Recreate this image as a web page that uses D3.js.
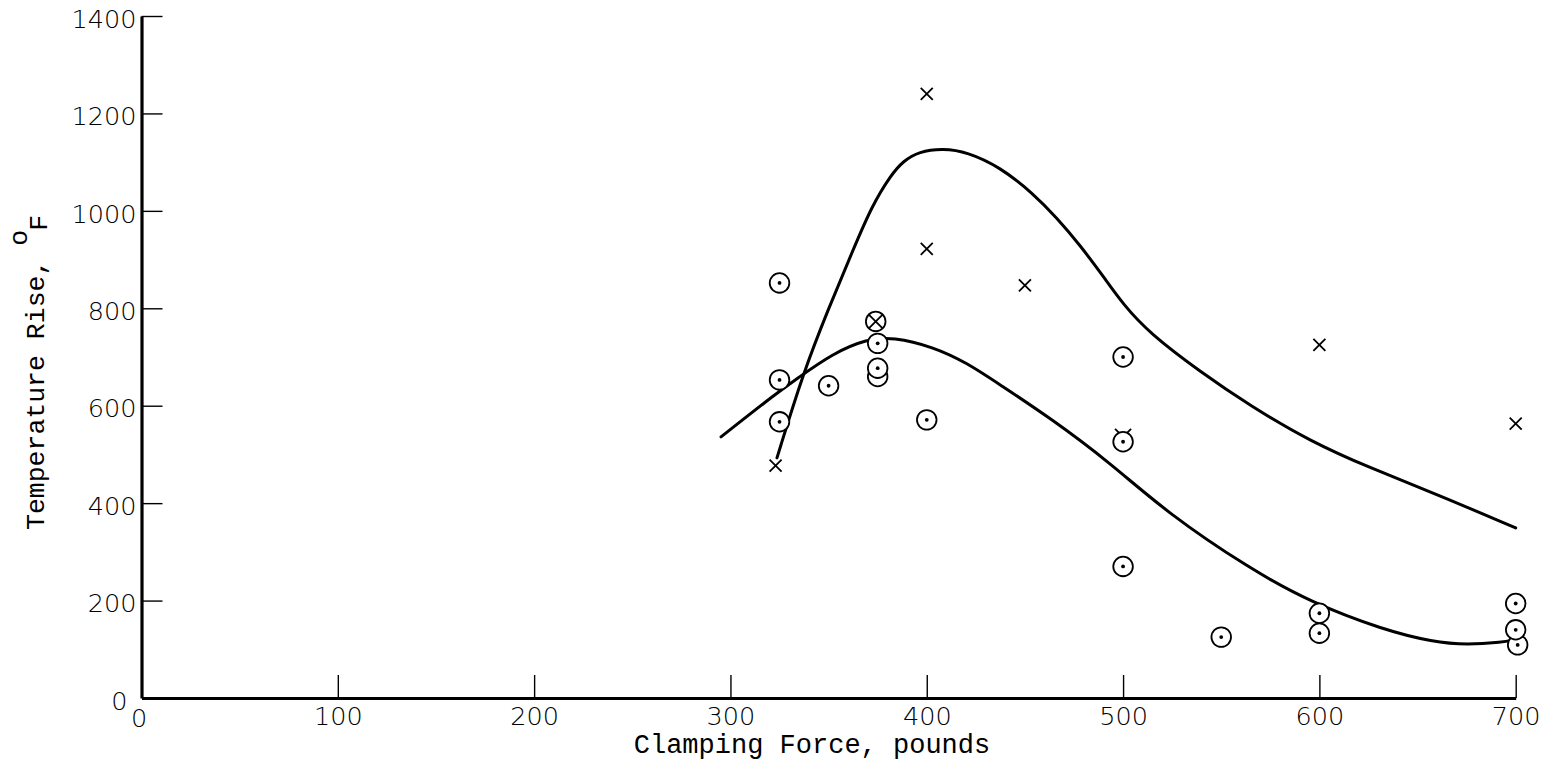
<!DOCTYPE html>
<html>
<head>
<meta charset="utf-8">
<script src="https://cdn.jsdelivr.net/npm/d3@7"></script>
<style>
  html, body { margin: 0; padding: 0; background: #fff; }
  svg { display: block; }
</style>
</head>
<body>
<svg id="chart" width="1551" height="772"></svg>
<script>
// ---- data ----
const xTicks = [0, 100, 200, 300, 400, 500, 600, 700];
const yTicks = [0, 200, 400, 600, 800, 1000, 1200, 1400];

// circle-dot observations (drawing order matters for overlaps)
const dotX = [325, 325, 325, 350, 375, 375, 375, 400, 500, 500, 500, 550, 600, 600, 701, 700, 700];
const dotY = [852, 653, 567, 641, 660, 677, 728, 571, 700, 526, 270, 125, 174, 133, 109, 140, 194];

// cross observations
const crossX = [323, 400, 400, 450, 600, 700, 500];
const crossY = [477, 1240, 922, 847, 725, 563, 536];

// crossed-circle observation
const crossedCircleX = [374];
const crossedCircleY = [773];

// faired curves
const upperX = [323.7, 337, 350, 362.5, 372, 382, 388, 396, 408.3, 420.5, 437.3, 454.1, 466.4, 478, 490, 500, 513.7, 539.2, 564.7, 595.3, 625.9, 660, 700];
const upperY = [493, 667, 800, 920, 1010, 1075, 1102, 1122, 1128, 1121, 1090, 1036, 985, 930, 865, 808, 748, 670, 600, 527, 472, 418, 349];
const lowerX = [295.2, 324.2, 333, 352.3, 369.6, 382.8, 403.2, 420.5, 437.3, 462.8, 493.4, 522.4, 564.7, 595.3, 632.5, 658, 675.3, 693.6, 698.7];
const lowerY = [536, 628, 653, 708, 737, 741, 721, 688, 643, 575, 483, 380, 265, 197, 140, 115, 109, 115, 119];

// ---- layout ----
const svg = d3.select("#chart");
const x = d3.scaleLinear().domain([0, 700]).range([141.5, 1515.7]);
const y = d3.scaleLinear().domain([0, 1400]).range([698, 16]);

const tickFont = "'DejaVu Sans', sans-serif";
const titleFont = "'Liberation Mono', 'DejaVu Sans Mono', monospace";

// curves
const line = d3.line().curve(d3.curveBasis);
function curve(xs, ys) {
  return line(xs.map((v, i) => [x(v), y(ys[i])]));
}
svg.append("path").attr("d", curve(upperX, upperY))
  .attr("fill", "none").attr("stroke", "#000").attr("stroke-width", 3).attr("stroke-linecap", "round");
svg.append("path").attr("d", curve(lowerX, lowerY))
  .attr("fill", "none").attr("stroke", "#000").attr("stroke-width", 3).attr("stroke-linecap", "round");

// crosses
const cs = 6;
crossX.forEach((v, i) => {
  const cx = x(v), cy = y(crossY[i]);
  const s = (i === crossX.length - 1) ? 8 : cs;
  svg.append("path")
    .attr("d", `M${cx - s},${cy - s}L${cx + s},${cy + s}M${cx - s},${cy + s}L${cx + s},${cy - s}`)
    .attr("stroke", "#000").attr("stroke-width", 1.8).attr("fill", "none");
});

// circle-dot markers
dotX.forEach((v, i) => {
  const cx = x(v), cy = y(dotY[i]);
  svg.append("circle").attr("cx", cx).attr("cy", cy).attr("r", 9.8)
    .attr("fill", "#fff").attr("stroke", "#000").attr("stroke-width", 1.8);
  svg.append("circle").attr("cx", cx).attr("cy", cy).attr("r", 1.9).attr("fill", "#000");
});

// crossed circle
crossedCircleX.forEach((v, i) => {
  const cx = x(v), cy = y(crossedCircleY[i]);
  svg.append("circle").attr("cx", cx).attr("cy", cy).attr("r", 9.8)
    .attr("fill", "#fff").attr("stroke", "#000").attr("stroke-width", 1.8);
  const s = 6.9;
  svg.append("path")
    .attr("d", `M${cx - s},${cy - s}L${cx + s},${cy + s}M${cx - s},${cy + s}L${cx + s},${cy - s}`)
    .attr("stroke", "#000").attr("stroke-width", 1.8);
});

// axes
const yAxis = d3.axisLeft(y).tickValues(yTicks).tickSizeInner(-21).tickSizeOuter(0).tickPadding(4)
  .tickFormat(d3.format("d"));
const gy = svg.append("g").attr("transform", "translate(141.5,0)").call(yAxis);
gy.select(".domain").attr("stroke-width", 3.2);
gy.selectAll(".tick line").attr("stroke-width", 1.4);
gy.selectAll(".tick").filter(d => d === 0).select("line").remove();
gy.selectAll(".tick text")
  .attr("font-family", tickFont).attr("font-weight", 200).attr("font-size", 25.5)
  .attr("fill", "#000").attr("dy", "0.44em").attr("x", -5);
gy.selectAll(".tick").filter(d => d === 0).select("text").attr("x", -14);

const xAxis = d3.axisBottom(x).tickValues(xTicks).tickSizeInner(-23).tickSizeOuter(0).tickPadding(6)
  .tickFormat(d3.format("d"));
const gx = svg.append("g").attr("transform", "translate(0,698)").call(xAxis);
gx.select(".domain").attr("stroke-width", 3);
gx.selectAll(".tick line").attr("stroke-width", 1.4);
gx.selectAll(".tick").filter(d => d === 0).select("line").remove();
gx.selectAll(".tick text")
  .attr("font-family", tickFont).attr("font-weight", 200).attr("font-size", 25.5)
  .attr("fill", "#000").attr("y", 27).attr("dy", 0);
gx.selectAll(".tick").filter(d => d === 0).select("text").attr("x", -3).attr("y", 29);

// titles
svg.append("text")
  .attr("x", 812).attr("y", 753)
  .attr("text-anchor", "middle")
  .attr("font-family", titleFont).attr("font-size", 27).attr("fill", "#000")
  .text("Clamping Force, pounds");

const yt = svg.append("text")
  .attr("transform", "translate(44,530) rotate(-90)")
  .attr("text-anchor", "start")
  .attr("font-family", titleFont).attr("font-size", 26.5).attr("fill", "#000");
yt.append("tspan").text("Temperature Rise, ");
yt.append("tspan").attr("dy", -17).attr("dx", -2).text("o");
yt.append("tspan").attr("dy", 20).attr("dx", -1).text("F");
</script>
</body>
</html>
